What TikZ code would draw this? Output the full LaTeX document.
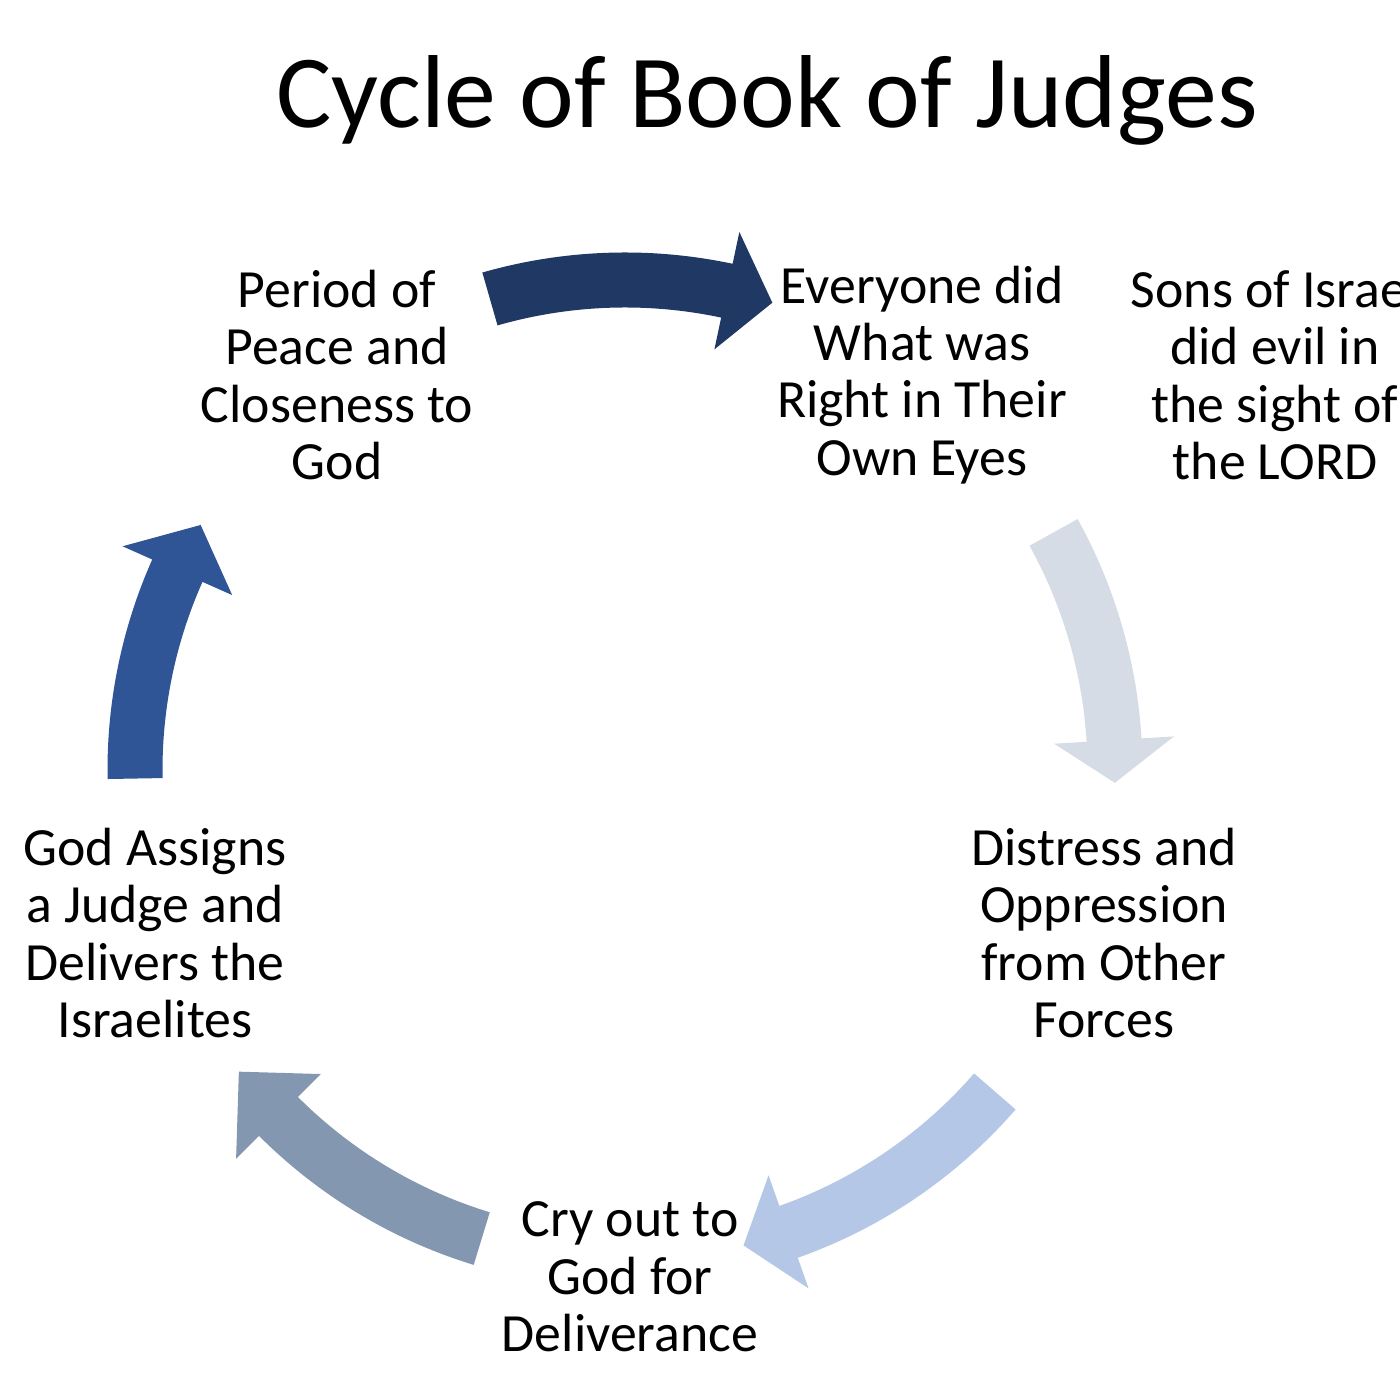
\documentclass[tikz,border=0pt]{standalone}
\usepackage{fontspec}
\setmainfont{Carlito}
\definecolor{cA}{HTML}{1F3864}
\definecolor{cB}{HTML}{D6DCE5}
\definecolor{cC}{HTML}{B4C7E7}
\definecolor{cD}{HTML}{8497B0}
\definecolor{cE}{HTML}{2F5597}
\newcommand{\arcarrow}[4]{%
  \fill[#1] ([shift={(6.25,6.30)}]#2:5.175) arc[start angle=#2,end angle=#3,radius=5.175]
    -- ([shift={(6.25,6.30)}]#3:5.50) -- ([shift={(6.25,6.30)}]#4:4.90)
    -- ([shift={(6.25,6.30)}]#3:4.30) -- ([shift={(6.25,6.30)}]#3:4.625)
    arc[start angle=#3,end angle=#2,radius=4.625] -- cycle;}
\tikzset{lbl/.style={align=center,font=\fontsize{15.3pt}{16.3pt}\selectfont,inner sep=0pt}}
\begin{document}
\begin{tikzpicture}
\useasboundingbox (0,0) rectangle (14,14);
\clip (0,0) rectangle (14,14);
\fill[white] (0,0) rectangle (14,14);
\node[inner sep=0pt,font=\fontsize{29.5pt}{29.5pt}\selectfont] (title) at (7.67,13.0) {Cycle of Book of Judges};
\arcarrow{cA}{106}{78}{72.5}
\arcarrow{cB}{29}{3.5}{-1.5}
\arcarrow{cC}{-41}{-70.5}{-76}
\arcarrow{cD}{-107}{-135}{-142}
\arcarrow{cE}{181}{156}{150}
\node[lbl] (peace) at (3.37,10.25) {Period of\\Peace and\\Closeness to\\God};
\node[lbl] (every) at (9.22,10.25) {Everyone did\\What was\\Right in Their\\Own Eyes};
\node[lbl] (sons) at (12.75,10.25) {Sons of Israel\\did evil in\\the sight of\\the LORD};
\node[lbl] (dist) at (11.04,4.67) {Distress and\\Oppression\\from Other\\Forces};
\node[lbl] (cry) at (6.30,1.23) {Cry out to\\God for\\Deliverance};
\node[lbl] (god) at (1.55,4.67) {God Assigns\\a Judge and\\Delivers the\\Israelites};
\end{tikzpicture}
\end{document}
